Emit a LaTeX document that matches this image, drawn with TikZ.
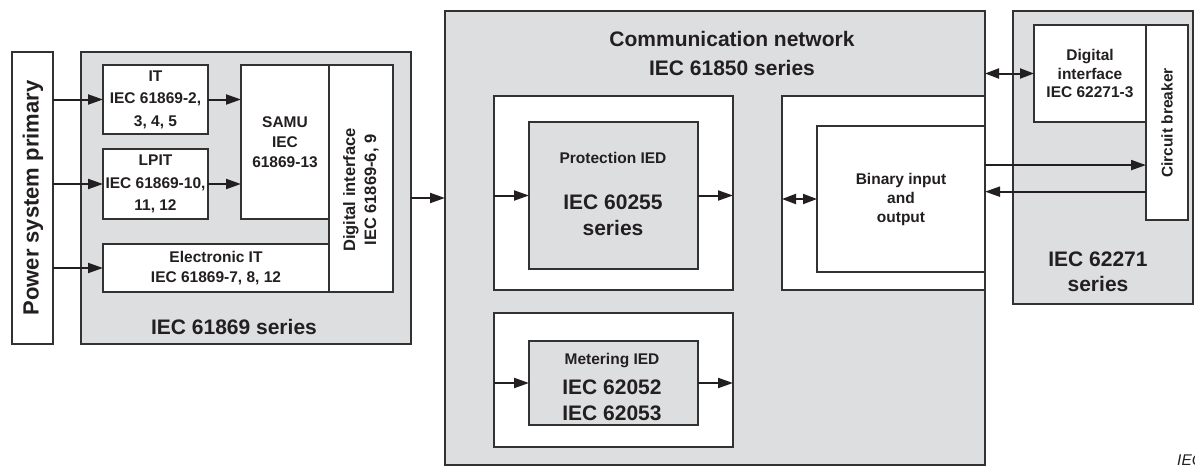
\documentclass[tikz,border=0pt]{standalone}
\usepackage{fontspec}
\setmainfont{Liberation Sans}
\usetikzlibrary{arrows.meta, positioning}

\definecolor{panelgray}{RGB}{221,222,224}
\definecolor{linegray}{RGB}{50,50,50}
\definecolor{inkblack}{RGB}{35,31,32}

\begin{document}
\begin{tikzpicture}[x=1pt, y=-1pt,
    box/.style={draw=linegray, line width=1.2pt, fill=white, inner sep=0pt, outer sep=0pt,
      anchor=north west, align=center, text=inkblack, font=\fontsize{15.5}{20}\selectfont\bfseries},
    panel/.style={box, fill=panelgray},
    lbl/.style={text=inkblack, align=center, inner sep=0pt, font=\fontsize{15.5}{20}\selectfont\bfseries},
    biglbl/.style={lbl, font=\fontsize{21}{26}\selectfont\bfseries},
    arr/.style={-{Triangle[length=15pt,width=10pt]}, line width=2pt, draw=inkblack},
    dblarr/.style={{Triangle[length=14pt,width=10pt]}-{Triangle[length=14pt,width=10pt]}, line width=2pt, draw=inkblack}]
  \useasboundingbox (0,0) rectangle (1195,466);

  % primary side
  \node[box, minimum width=41pt, minimum height=292pt] (pwr) at (12,52) {};
  \node[biglbl, rotate=90, font=\fontsize{22}{26}\selectfont\bfseries] at (33,198) {Power system primary};

  % IEC 61869 group
  \node[panel, minimum width=330pt, minimum height=292pt] (grpL) at (81,52) {};
  \node[box, minimum width=105pt, minimum height=69pt, font=\fontsize{15.5}{22.5}\selectfont\bfseries] (it) at (103,65) {IT\\IEC 61869-2,\\3, 4, 5};
  \node[box, minimum width=105pt, minimum height=70pt, font=\fontsize{15.5}{22.5}\selectfont\bfseries] (lpit) at (103,149) {LPIT\\IEC 61869-10,\\11, 12};
  \node[box, minimum width=88pt, minimum height=154pt] (samu) at (241,65) {SAMU\\IEC\\61869-13};
  \node[box, minimum width=64pt, minimum height=227pt] (digif) at (329,65) {};
  \node[lbl, rotate=90, font=\fontsize{16.5}{21}\selectfont\bfseries] at (361,190) {Digital interface\\IEC 61869-6, 9};
  \node[box, minimum width=226pt, minimum height=48pt] (eit) at (103,244) {Electronic IT\\IEC 61869-7, 8, 12};
  \node[biglbl] at (234,327) {IEC 61869 series};

  % communication network
  \node[panel, minimum width=540pt, minimum height=454pt] (comm) at (445,11) {};
  \node[biglbl, font=\fontsize{21}{29}\selectfont\bfseries] at (732,53) {Communication network\\IEC 61850 series};
  \node[box, minimum width=239pt, minimum height=194pt] (protout) at (494,96) {};
  \node[panel, minimum width=169pt, minimum height=147pt] (protin) at (529,122) {};
  \node[lbl] at (613,158) {Protection IED};
  \node[biglbl] at (613,215) {IEC 60255\\series};
  \node[box, minimum width=239pt, minimum height=134pt] (metout) at (494,313) {};
  \node[panel, minimum width=169pt, minimum height=84pt] (metin) at (529,341) {};
  \node[lbl] at (612,361) {Metering IED};
  \node[biglbl] at (612,400) {IEC 62052\\IEC 62053};
  \node[box, minimum width=203pt, minimum height=194pt] (binout) at (782,96) {};
  \node[box, minimum width=168pt, minimum height=146pt, font=\fontsize{15.5}{19}\selectfont\bfseries] (binin) at (817,126) {Binary input\\and\\output};

  % IEC 62271 group
  \node[panel, minimum width=180pt, minimum height=293pt] (grpR) at (1013,11) {};
  \node[box, minimum width=112pt, minimum height=97pt, font=\fontsize{15.5}{18.5}\selectfont\bfseries] (digif2) at (1034,25) {Digital\\interface\\IEC 62271-3};
  \node[box, minimum width=42pt, minimum height=195pt] (cb) at (1146,25) {};
  \node[lbl, rotate=90] at (1167,123) {Circuit breaker};
  \node[biglbl, font=\fontsize{21}{25}\selectfont\bfseries] at (1098,272) {IEC 62271\\series};

  \node[font=\fontsize{15.5}{18}\selectfont\itshape, text=inkblack, anchor=base west, inner sep=0pt] at (1177,465) {IEC};

  % signal flow
  \draw[arr] (pwr.east |- it.west) -- (it.west);
  \draw[arr] (pwr.east |- lpit.west) -- (lpit.west);
  \draw[arr] (pwr.east |- eit.west) -- (eit.west);
  \draw[arr] (it.east) -- (it.east -| samu.west);
  \draw[arr] (lpit.east) -- (lpit.east -| samu.west);
  \draw[arr] (grpL.east) -- (grpL.east -| comm.west);
  \draw[arr] (protout.west |- protin.west) -- (protin.west);
  \draw[arr] (protin.east) -- (protin.east -| protout.east);
  \draw[arr] (metout.west |- metin.west) -- (metin.west);
  \draw[arr] (metin.east) -- (metin.east -| metout.east);
  \draw[dblarr] (binout.west |- binin.west) -- (binin.west);
  \draw[dblarr] (comm.east |- digif2.west) -- (digif2.west);
  \draw[arr] (binin.22.9) -- (binin.22.9 -| cb.west);
  \draw[arr] (cb.west |- binin.5.1) -- (binin.5.1);
\end{tikzpicture}
\end{document}
